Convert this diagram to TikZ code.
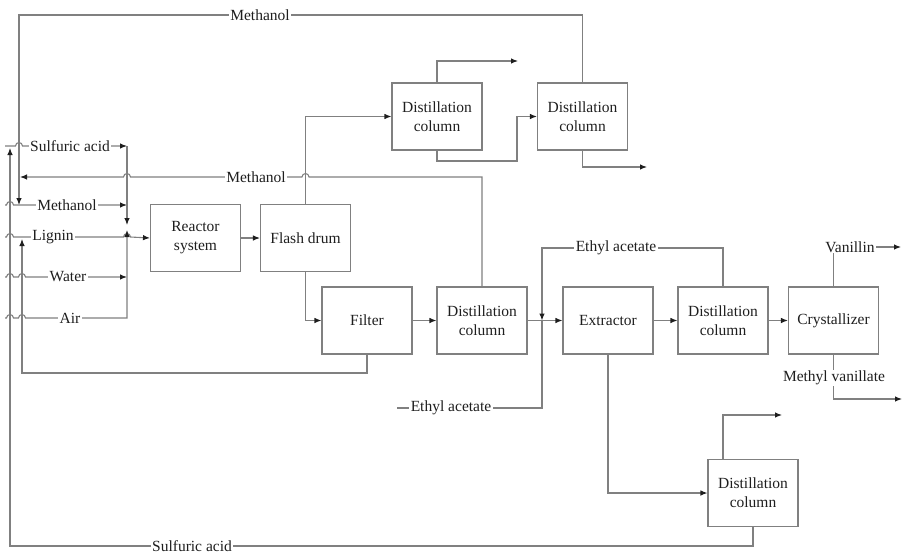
\documentclass[tikz,border=0pt]{standalone}
\usepackage{fontspec}
\setmainfont{Liberation Serif}
\usetikzlibrary{arrows.meta}
\definecolor{ln}{RGB}{128,128,128}
\definecolor{tx}{RGB}{30,30,30}
\begin{document}
\begin{tikzpicture}[x=1pt,y=-1pt,
  unit/.style={draw=ln, line width=1.1pt, minimum width=90pt, minimum height=67pt,
    inner sep=0pt, align=center, font=\fontsize{15.5}{19}\selectfont, text=tx},
  flow/.style={draw=ln, line width=1.1pt},
  arr/.style={flow, -{Latex[length=7pt,width=5.5pt,color=tx]}},
  lbl/.style={fill=white, inner xsep=1.5pt, inner ysep=0.5pt, font=\fontsize{15.5}{19}\selectfont, text=tx}
]
\useasboundingbox (0,0) rectangle (904,555);

% units
\node[unit] (reactor) at (195.5,238) {Reactor\\system};
\node[unit] (flash)   at (305.5,238) {Flash drum};
\node[unit] (dca)     at (437,116.5) {Distillation\\column};
\node[unit] (dcb)     at (582.5,116.5) {Distillation\\column};
\node[unit] (filter)  at (367,320.5) {Filter};
\node[unit] (dcc)     at (482,320.5) {Distillation\\column};
\node[unit] (extr)    at (608,320.5) {Extractor};
\node[unit] (dcd)     at (723,320.5) {Distillation\\column};
\node[unit] (cryst)   at (833.5,320.5) {Crystallizer};
\node[unit] (dce)     at (753,493) {Distillation\\column};

% named points
\coordinate (mix) at (127,146);
\coordinate (mixlow) at (127,318);
\coordinate (dcaout) at (518,61);
\coordinate (dcbout) at (647,167);
\coordinate (eaj) at (542,320.5);
\coordinate (eain) at (397,408);
\coordinate (van) at (901,247);
\coordinate (mvan) at (902,399);
\coordinate (dceout) at (782,415);

% main line
\draw[arr] (reactor) -- (flash);
\draw[arr] (flash.north) |- (dca.west);
\draw[arr] (flash.south) |- (filter.west);
\draw[arr] (dca.north) |- (dcaout);
\draw[arr] (dca.south) |- (517,161) |- (dcb.west);
\draw[arr] (dcb.south) |- (dcbout);
\draw[arr] (filter) -- (dcc);
\draw[arr] (dcc) -- (extr);
\draw[arr] (extr) -- (dcd);
\draw[arr] (dcd) -- (cryst);
\draw[arr] (extr.south) |- (dce.west);
\draw[arr] ([xshift=-30pt]dce.north) |- (dceout);

% products
\draw[arr] (cryst.north) |- (van);
\node[lbl] (lvan) at (850,247) {Vanillin};
\draw[arr] (cryst.south) |- (mvan);
\node[lbl] (lmvan) at (834,378) {Methyl vanillate};

% ethyl acetate
\draw[flow] (eain) -| (eaj);
\node[lbl] (lea1) at (451,408) {Ethyl acetate};
\draw[arr] (dcd.north) |- (542,248) -- (eaj);
\node[lbl] (lea2) at (616,248) {Ethyl acetate};

% methanol recycle (top)
\draw[arr] (dcb.north) |- (19,15) -- (19,205);
\node[lbl] (lme1) at (260,15) {Methanol};

% methanol recycle (middle)
\draw[arr] (dcc.north) |- (309,177) .. controls (309,172.5) and (302,172.5) .. (302,177)
  -- (130.5,177) .. controls (130.5,172.5) and (123.5,172.5) .. (123.5,177) -- (20,177);
\node[lbl] (lme2) at (256,177) {Methanol};

% filter recycle
\draw[arr] (filter.south) |- (22,373) -- (22,239);

% sulfuric acid recycle
\draw[arr] (dce.south) |- (10,546) -- (10,148);
\node[lbl] (lsa2) at (192,546) {Sulfuric acid};

% feeds
\draw[arr] (5,146) -- (15.5,146) .. controls (15.5,141.5) and (22.5,141.5) .. (22.5,146) -- (mix);
\node[lbl] (lsa1) at (70,146) {Sulfuric acid};
\draw[arr] (5,205) -- (6.5,205) .. controls (6.5,200.5) and (13.5,200.5) .. (13.5,205) -- (127,205);
\node[lbl] (lme3) at (67,205) {Methanol};
\draw[arr] (5,237) -- (6.5,237) .. controls (6.5,232.5) and (13.5,232.5) .. (13.5,237)
  -- (123.5,237) .. controls (123.5,232.5) and (130.5,232.5) .. (130.5,237) -- (reactor.west);
\node[lbl] (llig) at (53,237) {Lignin};
\draw[arr] (5,277) -- (6.5,277) .. controls (6.5,272.5) and (13.5,272.5) .. (13.5,277)
  -- (18.5,277) .. controls (18.5,272.5) and (25.5,272.5) .. (25.5,277) -- (127,277);
\node[lbl] (lwat) at (68,277) {Water};
\draw[arr] (5,318) -- (6.5,318) .. controls (6.5,313.5) and (13.5,313.5) .. (13.5,318)
  -- (18.5,318) .. controls (18.5,313.5) and (25.5,313.5) .. (25.5,318) -- (mixlow) -- (127,230);
\node[lbl] (lair) at (70,318) {Air};
\draw[arr] (mix) -- (127,225);
\end{tikzpicture}
\end{document}
